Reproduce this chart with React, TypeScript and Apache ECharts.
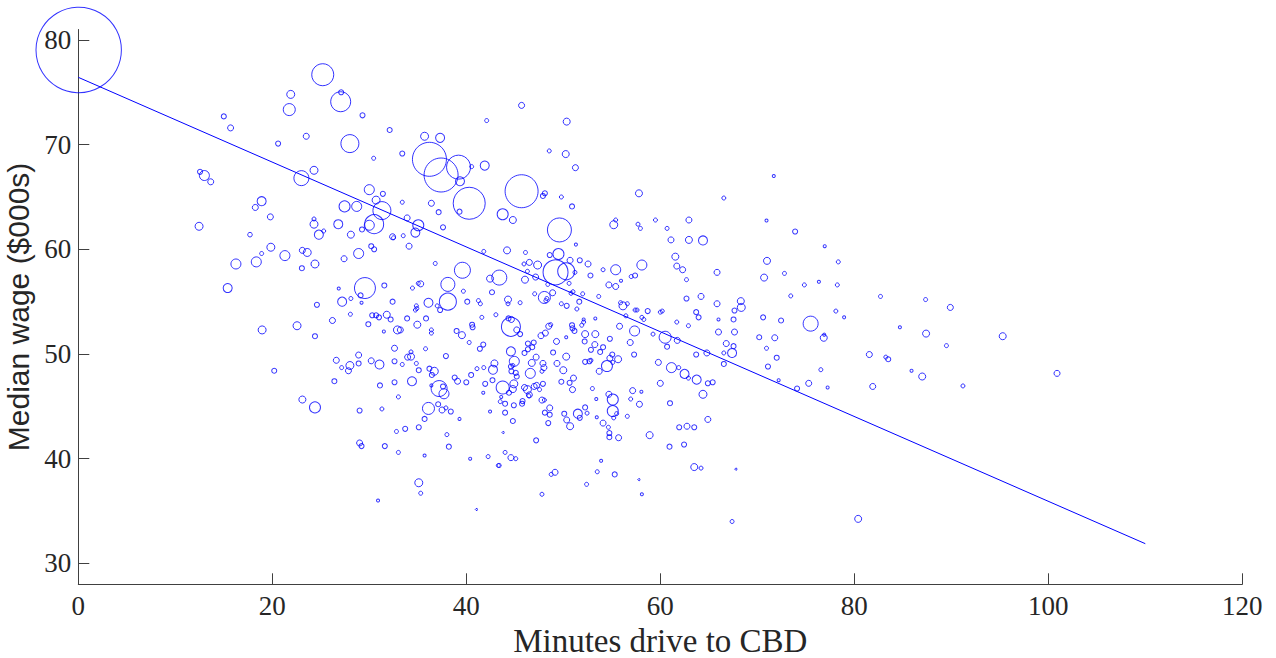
import React, { useEffect, useRef } from "react";
import * as echarts from "echarts";

// [minutes drive to CBD, median wage ($000s), population weight]
const suburbsWest: [number, number, number][] = [
  [0.04, 79.04, 1823], [25.2, 76.68, 121], [21.9, 74.8, 16], [27.1, 75.0, 6.3], [27.05, 74.1, 100],
  [21.75, 73.35, 36], [45.7, 73.75, 9], [15.0, 72.7, 6.3], [15.7, 71.6, 9], [29.3, 72.8, 6.3],
  [32.1, 71.4, 6.3], [23.5, 70.8, 9], [20.6, 70.1, 6.3], [28.0, 70.1, 81], [35.7, 70.8, 16],
  [37.3, 70.65, 20.3], [36.2, 68.6, 289], [37.4, 67.1, 289], [30.45, 68.7, 4], [33.4, 69.15, 6.3],
  [12.55, 67.4, 6.3], [13.0, 67.05, 25], [13.65, 66.45, 9], [24.3, 67.55, 16], [23.0, 66.8, 56.3],
  [30.0, 65.7, 25], [31.4, 65.3, 6.3], [30.7, 64.7, 16], [31.3, 63.7, 81], [30.5, 62.4, 90.3],
  [30.0, 62.3, 25], [27.45, 64.1, 30.3], [28.7, 64.1, 25], [33.4, 64.5, 4], [36.4, 64.4, 9],
  [37.15, 63.55, 6.3], [33.9, 63.0, 9], [35.05, 62.3, 30.3], [34.75, 61.6, 20.3], [37.6, 62.1, 6.3],
  [18.9, 64.6, 20.3], [18.25, 64.0, 9], [19.8, 63.1, 9], [12.45, 62.2, 16], [24.3, 62.9, 4],
  [24.3, 62.4, 16], [25.3, 61.75, 4], [24.8, 61.4, 20.3], [26.8, 62.4, 20.3], [28.1, 61.4, 12.3],
  [29.25, 61.9, 6.3], [17.7, 61.4, 5.3], [32.4, 61.2, 9], [32.5, 61.1, 4], [33.5, 61.3, 4],
  [34.1, 60.3, 9], [30.2, 60.3, 6.3], [30.5, 60.0, 6.3], [19.85, 60.2, 16], [18.9, 59.6, 4],
  [21.3, 59.4, 25], [16.25, 58.6, 25], [18.35, 58.8, 25], [23.1, 59.9, 9], [23.6, 59.7, 16],
  [24.4, 58.6, 16], [23.05, 58.2, 6.3], [27.4, 59.1, 9], [28.9, 59.6, 25], [36.8, 58.65, 4],
  [15.4, 56.3, 20.3], [29.55, 56.3, 110], [29.1, 55.6, 6.3], [31.55, 56.55, 6.3], [34.45, 56.3, 4],
  [35.05, 56.75, 4], [35.3, 56.7, 9], [38.1, 56.65, 49], [26.85, 56.25, 2.3], [27.2, 55.0, 20.3],
  [28.1, 55.3, 4], [29.2, 54.9, 2.3], [32.4, 55.0, 6.3], [36.1, 54.9, 20.3], [38.1, 55.0, 72.3],
  [24.6, 54.7, 6.3], [37.0, 54.6, 4], [37.3, 54.2, 6.3], [34.75, 54.2, 4], [34.9, 54.35, 4],
  [34.85, 54.6, 4], [28.05, 53.8, 4], [30.3, 53.7, 6.3], [30.7, 53.7, 6.3], [31.0, 53.5, 6.3],
  [31.8, 53.75, 12.3], [32.2, 53.3, 6.3], [33.9, 53.4, 6.3], [35.85, 53.4, 6.3], [26.2, 53.2, 9],
];

const suburbsSouthWest: [number, number, number][] = [
  [34.95, 52.8, 12.3], [18.95, 52.3, 16], [22.55, 52.7, 16], [24.4, 51.7, 6.3], [29.9, 52.85, 6.3],
  [31.5, 52.15, 2.3], [32.9, 52.3, 16], [33.2, 52.3, 9], [36.4, 52.3, 4], [36.4, 52.0, 4],
  [39.0, 52.2, 6.3], [26.6, 49.4, 9], [27.15, 48.7, 4], [28.0, 48.9, 16], [27.85, 48.4, 9],
  [28.9, 49.9, 9], [28.9, 49.1, 6.3], [30.2, 49.35, 9], [31.05, 49.0, 20.3], [32.6, 50.55, 9],
  [32.6, 49.3, 6.3], [33.4, 49.0, 4], [33.95, 49.7, 9], [34.3, 49.75, 12.3], [34.3, 50.2, 4],
  [34.85, 49.1, 4], [35.1, 48.45, 6.3], [35.8, 50.5, 4], [36.2, 48.6, 6.3], [36.7, 48.35, 16],
  [36.45, 48.0, 6.3], [37.9, 49.8, 6.3], [38.8, 47.75, 6.3], [39.1, 47.4, 9], [20.2, 48.4, 6.3],
  [26.4, 47.4, 6.3], [31.1, 47.0, 6.3], [32.6, 47.3, 6.3], [34.4, 47.4, 20.3], [36.4, 47.0, 2.3],
  [37.2, 46.7, 64], [37.6, 46.9, 6.3], [37.7, 46.2, 25], [33.0, 45.9, 4], [23.1, 45.65, 12.3],
  [24.4, 44.9, 30.3], [29.0, 44.6, 6.3], [31.3, 44.75, 4], [36.1, 44.8, 36], [37.1, 45.2, 6.3],
  [37.5, 44.65, 9], [37.9, 44.85, 4], [38.4, 44.5, 6.3], [35.7, 43.8, 6.3], [39.3, 43.8, 2.3],
  [32.8, 42.6, 4], [33.7, 42.85, 6.3], [35.1, 43.0, 6.3], [38.0, 42.3, 4], [29.0, 41.5, 9],
  [29.2, 41.2, 6.3], [31.6, 41.2, 6.3], [33.0, 40.6, 4], [35.7, 40.3, 2.3], [38.2, 41.15, 6.3],
  [35.1, 37.7, 16], [35.3, 36.7, 4], [30.9, 36.0, 2.3],
];

const suburbsNorth: [number, number, number][] = [
  [39.2, 67.85, 144], [40.55, 67.9, 4], [39.35, 66.5, 20.3], [41.9, 68.0, 20.3], [42.1, 72.3, 4],
  [50.35, 72.2, 12.3], [48.55, 69.4, 4], [50.25, 69.1, 12.3], [51.25, 67.8, 9], [45.7, 65.55, 272],
  [40.3, 64.4, 256], [39.3, 63.6, 6.3], [48.1, 65.35, 6.3], [47.9, 65.1, 6.3], [49.8, 65.0, 4],
  [50.9, 64.1, 6.3], [43.75, 63.35, 30.3], [44.8, 62.8, 12.3], [57.8, 65.35, 12.3], [49.6, 61.85, 144],
  [55.2, 62.35, 16], [55.4, 62.8, 4], [57.7, 62.4, 4], [57.95, 62.0, 4], [59.5, 62.8, 4],
  [60.7, 62.0, 4], [62.95, 62.8, 9], [61.1, 60.9, 9], [62.95, 60.9, 12.3], [64.4, 60.85, 20.3],
  [51.3, 60.45, 2.3], [41.8, 59.8, 4], [44.2, 59.9, 12.3], [46.1, 59.7, 4], [48.6, 59.45, 6.3],
  [49.5, 59.55, 30.3], [50.7, 58.95, 9], [51.7, 58.95, 6.3], [52.55, 58.6, 9], [46.5, 58.75, 9],
  [45.95, 58.6, 4], [47.35, 58.5, 16], [49.2, 57.8, 156], [50.3, 57.9, 72.3], [51.2, 57.8, 4],
  [46.3, 57.9, 4], [47.15, 57.35, 9], [46.05, 57.1, 12.3], [39.6, 58.0, 64], [43.4, 57.3, 56.3],
  [42.45, 57.2, 12.3], [39.7, 56.0, 4], [40.1, 55.0, 6.3], [42.65, 55.9, 6.3], [41.25, 55.1, 4],
  [41.45, 54.8, 4], [44.3, 55.2, 12.3], [44.3, 54.8, 4], [45.55, 54.9, 4], [48.05, 55.4, 36],
  [48.3, 55.3, 4], [48.2, 55.1, 4], [48.9, 55.85, 9], [47.05, 55.75, 4], [48.4, 56.65, 4],
  [50.6, 56.75, 4], [50.8, 55.8, 4], [51.0, 55.95, 4], [52.0, 55.75, 4], [49.8, 54.8, 4],
  [50.35, 54.6, 6.3], [51.65, 55.0, 6.3], [51.4, 54.3, 4], [53.65, 55.5, 4], [52.8, 57.5, 6.3],
  [54.1, 58.05, 4], [55.4, 58.05, 25], [58.1, 58.5, 25], [54.7, 56.6, 9], [55.4, 56.45, 9],
  [55.95, 57.0, 2.3], [57.0, 57.4, 4], [57.4, 57.5, 6.3], [55.9, 54.9, 4], [56.6, 54.8, 4],
  [56.15, 54.6, 16], [57.4, 54.2, 4], [57.6, 54.2, 4], [58.7, 54.1, 6.3], [60.0, 54.0, 4],
  [60.2, 54.1, 4], [61.55, 59.3, 12.3], [61.7, 58.4, 9], [62.3, 58.05, 9], [62.7, 57.1, 4],
  [64.2, 55.5, 9], [62.7, 55.3, 6.3], [65.85, 57.8, 9], [65.85, 54.8, 9], [63.7, 54.0, 6.3],
  [63.95, 53.5, 6.3], [58.3, 53.3, 4], [58.1, 53.5, 4], [56.45, 53.65, 4], [53.3, 53.4, 2.3],
  [52.1, 53.3, 2.3], [41.6, 53.5, 4], [43.05, 53.75, 4], [44.35, 53.4, 6.3], [44.65, 53.3, 9],
];

const suburbsSouth: [number, number, number][] = [
  [44.6, 52.6, 90.3], [45.2, 52.3, 9], [45.55, 51.9, 6.3], [40.6, 52.8, 6.3], [40.65, 52.55, 6.3],
  [39.55, 51.8, 12.3], [40.3, 51.1, 4], [41.4, 50.5, 6.3], [41.75, 50.9, 6.3], [47.7, 51.75, 9],
  [48.15, 52.0, 9], [48.5, 52.65, 9], [48.7, 52.8, 4], [50.9, 52.75, 6.3], [50.95, 52.45, 6.3],
  [51.15, 52.2, 6.3], [51.9, 52.75, 4], [52.1, 53.05, 4], [50.3, 51.6, 2.3], [52.25, 51.9, 12.3],
  [53.3, 51.9, 12.3], [54.8, 51.45, 6.3], [55.8, 52.65, 9], [57.35, 52.2, 25], [56.9, 51.1, 9],
  [59.25, 51.9, 4], [60.5, 51.6, 36], [61.7, 53.05, 4], [62.9, 52.7, 4], [61.75, 51.3, 9],
  [60.7, 50.7, 6.3], [63.7, 49.95, 6.3], [64.8, 50.1, 9], [66.0, 52.1, 9], [49.3, 51.2, 9],
  [46.35, 51.0, 6.3], [46.95, 51.1, 6.3], [46.0, 50.1, 6.3], [46.35, 50.45, 6.3], [46.8, 50.65, 6.3],
  [44.6, 50.25, 20.3], [48.95, 50.15, 6.3], [50.3, 49.75, 12.3], [44.95, 49.3, 25], [42.9, 49.1, 12.3],
  [42.75, 48.5, 20.3], [41.8, 48.7, 4], [41.1, 48.6, 4], [44.6, 48.8, 6.3], [44.8, 48.9, 4],
  [44.65, 48.35, 6.3], [45.1, 48.2, 6.3], [45.2, 47.85, 6.3], [46.75, 49.15, 12.3], [47.2, 49.7, 9],
  [47.9, 49.1, 9], [48.0, 48.7, 9], [46.6, 48.15, 25], [47.8, 48.35, 4], [49.35, 49.1, 9],
  [50.0, 48.45, 12.3], [52.25, 49.25, 6.3], [52.7, 49.3, 6.3], [52.85, 49.4, 4], [51.05, 47.7, 9],
  [50.65, 47.25, 6.3], [49.8, 47.35, 6.3], [50.95, 46.6, 9], [53.0, 46.7, 4], [53.7, 48.35, 9],
  [54.5, 48.85, 30.3], [55.1, 49.2, 4], [54.8, 49.6, 9], [55.05, 49.95, 6.3], [55.65, 49.5, 12.3],
  [54.1, 50.65, 6.3], [53.8, 50.2, 6.3], [52.85, 50.4, 6.3], [53.25, 50.9, 9], [52.2, 51.2, 6.3],
  [57.3, 49.95, 6.3], [59.8, 49.2, 9], [61.15, 48.7, 25], [61.9, 48.7, 4], [62.5, 48.1, 20.3],
  [62.9, 47.7, 4], [63.75, 47.55, 20.3], [64.9, 47.2, 6.3], [65.4, 47.3, 6.3], [64.4, 46.15, 16],
  [60.0, 47.2, 9], [57.15, 46.5, 9], [58.05, 46.4, 2.3], [54.7, 46.15, 9], [55.1, 45.65, 30.3],
  [56.95, 45.7, 4], [57.85, 45.2, 9], [53.4, 45.7, 2.3], [55.1, 44.55, 30.3], [55.5, 44.3, 4],
  [55.2, 43.9, 4], [56.6, 44.05, 4], [53.45, 43.95, 2.3], [54.1, 43.4, 9], [54.65, 43.0, 4],
  [54.75, 42.45, 6.3], [54.75, 42.05, 6.3], [55.7, 42.0, 9], [58.9, 42.25, 12.3], [61.0, 45.3, 6.3],
  [61.95, 43.0, 6.3], [62.75, 43.1, 9], [63.5, 43.0, 6.3], [64.9, 43.75, 9], [60.95, 41.15, 6.3],
  [62.45, 41.35, 6.3], [63.5, 39.2, 12.3], [64.2, 39.1, 4], [52.25, 44.9, 6.3], [52.45, 44.35, 4],
  [51.5, 44.3, 20.3], [51.7, 43.9, 6.3], [50.1, 44.3, 6.3], [50.35, 43.7, 9], [50.7, 43.1, 12.3],
  [48.6, 44.85, 9], [48.1, 44.4, 6.3], [48.6, 44.2, 6.3], [48.45, 43.4, 6.3], [47.8, 45.6, 9],
  [48.05, 45.6, 4], [47.25, 47.0, 9], [47.0, 46.9, 9], [47.55, 46.6, 4], [47.9, 47.15, 6.3],
  [46.0, 46.8, 9], [46.3, 46.6, 16], [46.5, 46.1, 9], [46.45, 46.0, 4], [45.8, 45.5, 6.3],
  [45.75, 45.25, 6.3], [44.9, 47.15, 16], [44.8, 46.65, 12.3], [43.75, 46.8, 42.3], [44.4, 46.3, 6.3],
  [43.6, 45.9, 2.3], [43.5, 45.45, 4], [44.0, 45.25, 6.3], [44.9, 45.1, 6.3], [44.0, 44.4, 6.3],
  [44.8, 43.6, 6.3], [42.45, 44.5, 2.3], [41.95, 47.15, 6.3], [42.7, 47.5, 6.3], [41.75, 46.3, 2.3],
  [40.5, 48.0, 6.3], [40.0, 47.3, 6.3], [40.4, 40.0, 2.3], [42.25, 40.2, 4], [43.3, 39.35, 4],
  [43.4, 39.35, 4], [44.0, 40.6, 4], [44.6, 40.1, 9], [45.1, 40.0, 4], [43.8, 42.5, 1],
  [47.2, 41.75, 6.3], [48.75, 38.5, 4], [49.15, 38.7, 9], [47.8, 36.6, 4], [41.05, 35.15, 1],
  [52.4, 37.55, 4], [53.5, 38.75, 4], [53.9, 39.8, 2.3], [55.3, 38.5, 6.3], [57.8, 38.0, 1],
  [58.1, 36.6, 2.3],
];

const suburbsOuter: [number, number, number][] = [
  [71.7, 67.0, 2.3], [66.55, 64.9, 4], [70.95, 62.75, 2.3], [73.9, 61.7, 6.3], [76.95, 60.3, 2.3],
  [71.0, 58.9, 12.3], [78.35, 58.8, 4], [70.7, 57.3, 12.3], [72.8, 57.7, 4], [74.85, 56.6, 4],
  [76.35, 56.9, 2.3], [78.25, 56.6, 4], [73.45, 55.55, 4], [82.7, 55.5, 4], [87.35, 55.2, 4],
  [89.9, 54.45, 9], [68.3, 55.05, 12.3], [68.35, 54.45, 16], [67.65, 54.15, 6.3], [70.6, 53.5, 6.3],
  [72.45, 53.2, 6.3], [78.1, 54.1, 4], [78.95, 53.5, 2.3], [75.5, 52.9, 56.3], [76.9, 51.85, 2.3],
  [76.85, 51.55, 12.3], [66.0, 53.3, 2.3], [67.55, 53.3, 6.3], [67.65, 52.1, 9], [70.2, 51.6, 6.3],
  [71.8, 51.55, 9], [66.8, 51.0, 9], [67.55, 50.75, 6.3], [66.55, 50.1, 4], [67.4, 50.1, 20.3],
  [66.55, 49.05, 6.3], [70.95, 50.55, 4], [72.0, 49.65, 6.3], [71.1, 48.8, 6.3], [72.2, 47.5, 2.3],
  [74.1, 46.7, 6.3], [75.3, 47.2, 9], [76.55, 48.5, 4], [77.25, 46.8, 2.3], [81.55, 49.95, 9],
  [83.25, 49.7, 4], [83.5, 49.5, 6.3], [84.7, 52.55, 2.3], [87.4, 51.95, 12.3], [89.5, 50.8, 4],
  [85.9, 48.4, 2.3], [87.0, 47.85, 12.3], [81.9, 46.9, 9], [91.2, 46.95, 4], [95.3, 51.7, 12.3],
  [100.9, 48.15, 9], [67.8, 39.0, 1], [67.4, 34.0, 4], [80.4, 34.25, 12.3],
];

// least-squares fit: wage = intercept + slope * minutes
const fitIntercept = 76.43;
const fitSlope = -0.405;
const fitMinutes = [0, 110];

const xTicks = [0, 20, 40, 60, 80, 100, 120];
const yTicks = [30, 40, 50, 60, 70, 80];

const xTitle = "Minutes drive to CBD";
const yTitle = "Median wage ($000s)";

export default function App() {
  const ref = useRef<HTMLDivElement>(null);

  useEffect(() => {
    if (!ref.current) return;
    const chart = echarts.init(ref.current, undefined, { renderer: "svg" });
    const all = [
      ...suburbsWest,
      ...suburbsSouthWest,
      ...suburbsNorth,
      ...suburbsSouth,
      ...suburbsOuter,
    ];
    const blue = "#0000ff";
    const dark = "#262626";
    const serif = "'Liberation Serif', 'Times New Roman', serif";

    chart.setOption({
      animation: false,
      backgroundColor: "#ffffff",
      grid: {
        left: 78.3,
        right: 33.7,
        top: 29.5,
        bottom: 73.7,
        containLabel: false,
        outerBoundsMode: "none",
      },
      xAxis: {
        type: "value",
        min: xTicks[0],
        max: xTicks[xTicks.length - 1],
        interval: xTicks[1] - xTicks[0],
        name: xTitle,
        nameLocation: "middle",
        nameGap: 37,
        nameTextStyle: { fontFamily: serif, fontSize: 33, lineHeight: 34, color: dark },
        axisLine: { show: true, onZero: false, lineStyle: { color: "#404040", width: 1 } },
        axisTick: { show: true, inside: true, length: 11, lineStyle: { color: "#404040", width: 1 } },
        axisLabel: { fontFamily: serif, fontSize: 27, color: dark, margin: 8 },
        splitLine: { show: false },
      },
      yAxis: {
        type: "value",
        min: 28,
        max: 81,
        name: yTitle,
        nameLocation: "middle",
        nameGap: 32,
        nameTextStyle: { fontFamily: "'Liberation Sans', Arial, sans-serif", fontSize: 30, color: dark },
        axisLine: { show: true, onZero: false, lineStyle: { color: "#404040", width: 1 } },
        axisTick: {
          show: true,
          inside: true,
          length: 11,
          customValues: yTicks,
          lineStyle: { color: "#404040", width: 1 },
        },
        axisLabel: { fontFamily: serif, fontSize: 27, color: dark, margin: 7, customValues: yTicks },
        splitLine: { show: false },
      },
      series: [
        {
          type: "scatter",
          clip: false,
          data: all.map((d) => [d[0], d[1], d[2]]),
          symbol: "circle",
          symbolSize: (v: number[]) => 2 * Math.sqrt(v[2]),
          itemStyle: { color: "rgba(0,0,0,0)", borderColor: blue, borderWidth: 1 },
          emphasis: { disabled: true },
          silent: true,
          z: 2,
        },
        {
          type: "line",
          data: fitMinutes.map((m) => [m, fitIntercept + fitSlope * m]),
          symbol: "none",
          lineStyle: { color: blue, width: 1 },
          silent: true,
          z: 3,
        },
      ],
    });
    return () => chart.dispose();
  }, []);

  return (
    <div
      ref={ref}
      style={{ position: "fixed", left: 0, top: 0, width: 1276, height: 658, background: "#fff" }}
    />
  );
}
